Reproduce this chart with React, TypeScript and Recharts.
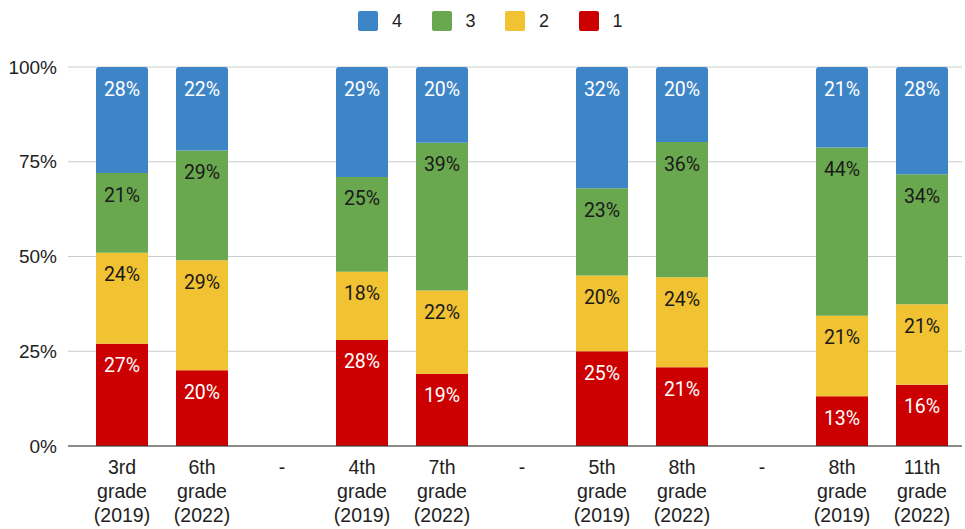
import React from 'react';
import { BarChart, Bar, XAxis, YAxis, CartesianGrid, LabelList } from 'recharts';

const categories = [
    '3rd\ngrade\n(2019)',
    '6th\ngrade\n(2022)',
    '-',
    '4th\ngrade\n(2019)',
    '7th\ngrade\n(2022)',
    '-',
    '5th\ngrade\n(2019)',
    '8th\ngrade\n(2022)',
    '-',
    '8th\ngrade\n(2019)',
    '11th\ngrade\n(2022)',
];

// share of students per level, in %, as labelled on the bars
const level1 = [27, 20, null, 28, 19, null, 25, 21, null, 13, 16];
const level2 = [24, 29, null, 18, 22, null, 20, 24, null, 21, 21];
const level3 = [21, 29, null, 25, 39, null, 23, 36, null, 44, 34];
const level4 = [28, 22, null, 29, 20, null, 32, 20, null, 21, 28];

const yTicks = [0, 25, 50, 75, 100];

const levels = [
    { key: 'l1', name: '1', values: level1, color: '#cc0000', text: '#ffffff' },
    { key: 'l2', name: '2', values: level2, color: '#f1c232', text: '#1a1a1a' },
    { key: 'l3', name: '3', values: level3, color: '#6aa84f', text: '#1a1a1a' },
    { key: 'l4', name: '4', values: level4, color: '#3d85c6', text: '#ffffff' },
];

// rows for the chart; bars fill to 100% like a percent-stacked chart,
// the raw value is kept next to it for the label
const chartData = categories.map((name, i) => {
    const row: Record<string, any> = { name };
    const total = levels.reduce((s, l) => s + (l.values[i] ?? 0), 0);
    levels.forEach(l => {
        const v = l.values[i];
        row[l.key] = v == null || total === 0 ? null : (v / total) * 100;
        row[l.key + 'raw'] = v;
    });
    return row;
});

const AXIS_FONT = '"Liberation Sans", Arial, sans-serif';
const LABEL_FONT = 'Roboto, "Liberation Sans", sans-serif';

const GradeTick = (props: any) => {
    const { x, y, payload } = props;
    const lines = String(payload.value).split('\n');
    return (
        <text x={x} y={y} textAnchor="middle" fill="#222" fontSize={19.5} fontFamily={AXIS_FONT}>
            {lines.map((line, i) => (
                <tspan key={i} x={x} dy={i === 0 ? 20 : 24}>{line}</tspan>
            ))}
        </text>
    );
};

const makeLabel = (color: string) => (props: any) => {
    const { x, y, width, value } = props;
    if (value == null) return null;
    return (
        <text
            x={Number(x) + Number(width) / 2}
            y={Number(y) + 14.5 + 14}
            textAnchor="middle"
            fill={color}
            fontSize={19.5}
            fontFamily={LABEL_FONT}
        >
            {`${value}%`}
        </text>
    );
};

const LegendRow: React.FC = () => (
    <div style={{ position: 'absolute', left: 358, top: 11, display: 'flex', fontFamily: AXIS_FONT }}>
        {[...levels].reverse().map(l => (
            <div key={l.key} style={{ width: 73.5, display: 'flex', alignItems: 'center', height: 20 }}>
                <div style={{ width: 20, height: 20, borderRadius: 2, background: l.color }} />
                <span style={{ marginLeft: 14, fontSize: 18, color: '#222' }}>{l.name}</span>
            </div>
        ))}
    </div>
);

export default function App() {
    return (
        <div style={{ position: 'absolute', left: 0, top: 0, width: 965, height: 529, background: '#fff' }}>
            <LegendRow />
            <BarChart
                width={965}
                height={529}
                data={chartData}
                margin={{ top: 67, right: 3, left: 0, bottom: 0 }}
                barSize={52}
            >
                <CartesianGrid vertical={false} stroke="#cccccc" />
                <XAxis
                    dataKey="name"
                    interval={0}
                    height={83}
                    padding={{ left: 14, right: 0 }}
                    tickLine={false}
                    axisLine={{ stroke: '#333333' }}
                    tick={<GradeTick />}
                />
                <YAxis
                    width={68}
                    domain={[0, 100]}
                    ticks={yTicks}
                    axisLine={false}
                    tickLine={false}
                    tickMargin={5}
                    tickFormatter={(v) => `${v}%`}
                    tick={{ fill: '#222', fontSize: 19, fontFamily: AXIS_FONT }}
                />
                {levels.map(l => (
                    <Bar
                        key={l.key}
                        dataKey={l.key}
                        name={l.name}
                        stackId="a"
                        fill={l.color}
                        radius={l.key === 'l4' ? [3, 3, 0, 0] : 0}
                        isAnimationActive={false}
                    >
                        <LabelList dataKey={l.key + 'raw'} content={makeLabel(l.text)} />
                    </Bar>
                ))}
            </BarChart>
        </div>
    );
}
